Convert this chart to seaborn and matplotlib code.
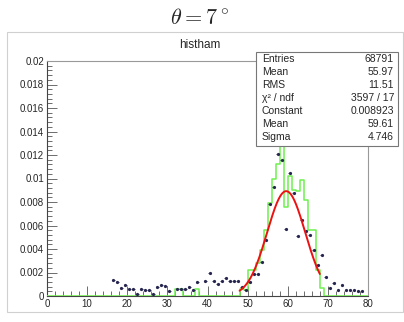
import numpy as np
import pandas as pd
import matplotlib
matplotlib.use("Agg")
import matplotlib.pyplot as plt
from matplotlib.patches import Rectangle
import seaborn as sns

# green histogram: bin left edge -> content (bins of width 1, 0..80)
green_edges = [32, 33, 37, 48, 49, 50, 51, 52, 53, 54, 55, 56, 57, 58, 59,
               60, 61, 62, 63, 64, 65, 66, 67, 68]
green_vals = [0.0006, 0.0006, 0.0006, 0.0006, 0.0005, 0.0022, 0.0022, 0.0028,
              0.0039, 0.0056, 0.0079, 0.0100, 0.0112, 0.0136, 0.0076,
              0.0102, 0.0090, 0.0089, 0.0099, 0.0082, 0.0056, 0.0056,
              0.0022, 0.0007]

# points with error bars (bin centres)
pt_x = [16.5, 17.5, 18.5, 19.5, 20.5, 21.5, 22.5, 23.5, 24.5, 25.5, 26.5,
        27.5, 28.5, 29.5, 30.5, 32.5, 33.5, 34.5, 35.5, 36.5, 37.5, 39.5,
        40.5, 41.5, 42.5, 43.5, 44.5, 45.5, 46.5, 47.5, 48.5, 49.5, 50.5,
        51.5, 52.5, 53.5, 54.5, 55.5, 56.5, 57.5, 58.5, 59.5, 60.5, 61.5,
        62.5, 63.5, 64.5, 65.5, 66.5, 67.5, 68.5, 69.5, 70.5, 71.5, 72.5,
        73.5, 74.5, 75.5, 76.5, 77.5, 78.5]
pt_y = [0.0014, 0.0012, 0.0007, 0.0009, 0.0006, 0.0006, 0.0002, 0.0006,
        0.0005, 0.0005, 0.0002, 0.0008, 0.0009, 0.00085, 0.0004, 0.0006,
        0.0006, 0.0006, 0.0008, 0.0005, 0.0012, 0.0013, 0.0020, 0.0013,
        0.0010, 0.0013, 0.0015, 0.0013, 0.0013, 0.0013, 0.0008, 0.0005,
        0.0012, 0.0019, 0.0019, 0.0029, 0.0048, 0.0078, 0.0093, 0.0121,
        0.0116, 0.0057, 0.0105, 0.0088, 0.0051, 0.0065, 0.0055, 0.0052,
        0.0039, 0.0026, 0.0035, 0.0016, 0.0007, 0.0011, 0.0005, 0.0009,
        0.0005, 0.0005, 0.0005, 0.0004, 0.0004]

# gaussian fit parameters (from stats box)
fit_const, fit_mean, fit_sigma = 0.008923, 59.61, 4.746
fit_range = (48, 68)

stat_labels = ["Entries", "Mean", "RMS", "χ² / ndf", "Constant", "Mean", "Sigma"]
stat_values = ["68791", "55.97", "11.51", "3597 / 17", "0.008923", "59.61", "4.746"]

x_ticks = [0, 10, 20, 30, 40, 50, 60, 70, 80]
y_ticks = [0, 0.002, 0.004, 0.006, 0.008, 0.01, 0.012, 0.014, 0.016, 0.018, 0.02]
y_ticklabels = ["0", "0.002", "0.004", "0.006", "0.008", "0.01", "0.012",
                "0.014", "0.016", "0.018", "0.02"]

sns.set_style("ticks")
plt.rcParams["font.family"] = ["Liberation Sans", "DejaVu Sans"]
plt.rcParams["mathtext.fontset"] = "cm"

W, H = 404, 322
fig = plt.figure(figsize=(W / 100, H / 100), dpi=100)

# canvas frame
fig.patches.append(Rectangle((7 / W, 1 - 312 / H), (403 - 7) / W, (312 - 32) / H,
                             transform=fig.transFigure, fill=False,
                             edgecolor="#d0d0d0", lw=0.8))

ax = fig.add_axes([47 / W, 1 - 296 / H, (368 - 47) / W, (296 - 61) / H])

# full 0..80 step table for the green histogram
edges = np.arange(0, 81)
content = np.zeros(81)
for e, v in zip(green_edges, green_vals):
    content[e] = v
content[80] = content[79]
hist_df = pd.DataFrame({"x": edges, "y": content})
sns.lineplot(data=hist_df, x="x", y="y", drawstyle="steps-post",
             color="#6ef04e", lw=1.1, ax=ax, zorder=3)

ax.errorbar(pt_x, pt_y, xerr=0.35, yerr=0.00008, fmt="o", ms=1.3,
            color="#262650", elinewidth=0.6, capsize=0, zorder=4)

fx = np.linspace(fit_range[0], fit_range[1], 200)
fit_df = pd.DataFrame({"x": fx,
                       "y": fit_const * np.exp(-0.5 * ((fx - fit_mean) / fit_sigma) ** 2)})
sns.lineplot(data=fit_df, x="x", y="y", color="#ee1111", lw=1.4, ax=ax, zorder=5)

ax.set_xlim(0, 80)
ax.set_ylim(0, 0.02)
ax.set_xlabel("")
ax.set_ylabel("")
ax.set_xticks(x_ticks)
ax.set_xticklabels([str(t) for t in x_ticks], fontsize=7)
ax.set_xticks(np.arange(0, 81, 2), minor=True)
ax.set_yticks(y_ticks)
ax.set_yticklabels(y_ticklabels, fontsize=7)
ax.set_yticks(np.arange(0, 0.02001, 0.0004), minor=True)
ax.tick_params(axis="both", which="both", bottom=True, left=True,
               top=False, right=False, direction="in")
ax.tick_params(axis="both", which="major", length=7, width=0.6,
               color="#555555", pad=2)
ax.tick_params(axis="both", which="minor", length=3.5, width=0.6,
               color="#555555")
for s in ["left", "bottom"]:
    ax.spines[s].set_color("#444444")
    ax.spines[s].set_linewidth(0.8)
for s in ["top", "right"]:
    ax.spines[s].set_visible(True)
    ax.spines[s].set_color("#999999")
    ax.spines[s].set_linewidth(0.8)

fig.text(200 / W, 1 - 18 / H, r"$\theta = 7^\circ$", ha="center", va="center",
         fontsize=16)
fig.text(200 / W, 1 - 45 / H, "histham", ha="center", va="center", fontsize=8.5)

# stats box
bx0, by0, bx1, by1 = 256, 52, 398, 146
fig.patches.append(Rectangle((bx0 / W, 1 - by1 / H), (bx1 - bx0) / W, (by1 - by0) / H,
                             transform=fig.transFigure, facecolor="white",
                             edgecolor="#777777", lw=0.8, zorder=10))
for i, (lab, val) in enumerate(zip(stat_labels, stat_values)):
    yy = 1 - (59 + i * 13) / H
    fig.text(262 / W, yy, lab, ha="left", va="center", fontsize=7.5, zorder=11)
    fig.text(394 / W, yy, val, ha="right", va="center", fontsize=7.5, zorder=11)

fig.savefig("out.png", dpi=100)
